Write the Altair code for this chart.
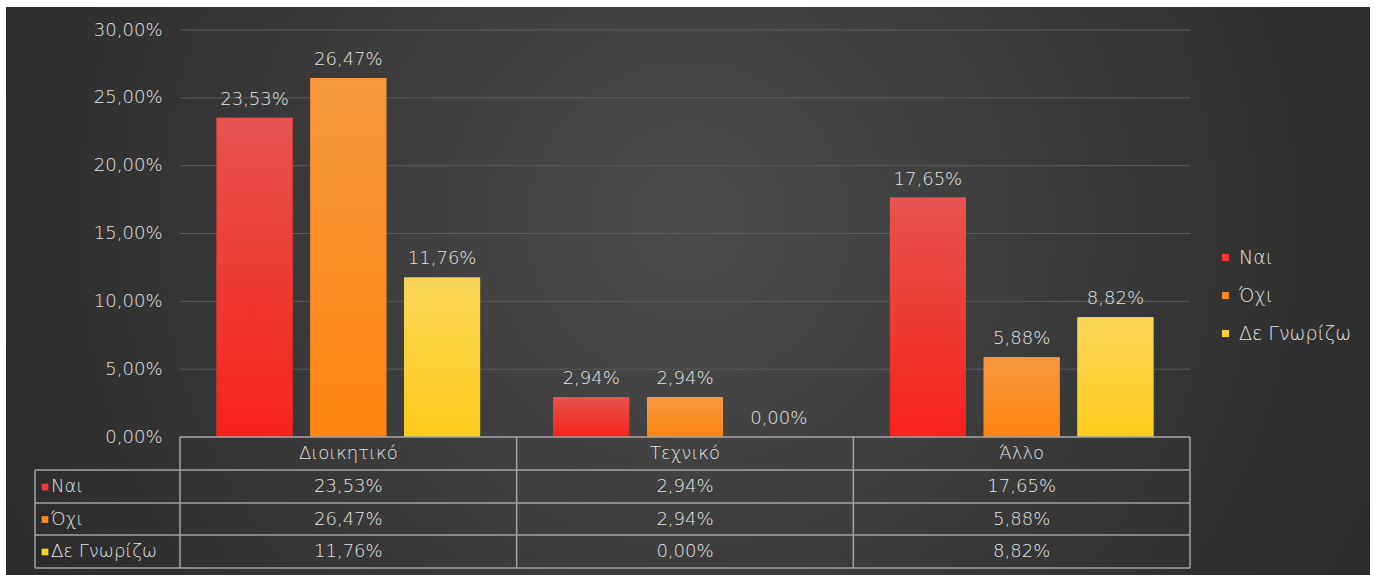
import altair as alt
import pandas as pd

categories = ["Διοικητικό", "Τεχνικό", "Άλλο"]
series = ["Ναι", "Όχι", "Δε Γνωρίζω"]
nai = [23.53, 2.94, 17.65]
oxi = [26.47, 2.94, 5.88]
de_gnorizo = [11.76, 0.00, 8.82]
y_ticks = [0, 5, 10, 15, 20, 25, 30]

solid = ["#ee3a32", "#fb8c24", "#fcd034"]
grad_top = ["#e65450", "#f6983f", "#f8d558"]
grad_bot = ["#f7221a", "#ff8510", "#ffcc1c"]

rows = []
for s, vals in zip(series, [nai, oxi, de_gnorizo]):
    for c, v in zip(categories, vals):
        rows.append({"category": c, "series": s, "value": v})
df = pd.DataFrame(rows)
df_cat = pd.DataFrame({"category": categories})
df_ticks = pd.DataFrame({"value": y_ticks})
dummy = pd.DataFrame({"k": [0]})

W, H = 1010, 407
FONT = "DejaVu Sans"
TXT = "#e4e4e4"
LINE = "#a3a3a3"
FS = 18
FW = 300

label_calc = "replace(format(datum.value, '.2f'), '.', ',') + '%'"

x_enc = alt.X("category:N", sort=categories,
              scale=alt.Scale(paddingInner=0, paddingOuter=0), axis=None)
xo_enc = alt.XOffset("series:N", sort=series,
                     scale=alt.Scale(paddingInner=0.19, paddingOuter=0.39))
y_enc = alt.Y("value:Q", scale=alt.Scale(domain=[0, 30], nice=False),
              axis=alt.Axis(values=y_ticks, labelExpr=label_calc, grid=False,
                            domain=False, ticks=False, labelPadding=18,
                            labelColor=TXT, labelFontSize=FS, labelFontWeight=FW,
                            zindex=1, title=None))

layers = []

# background
layers.append(
    alt.Chart(dummy).mark_rect(fill={
        "gradient": "radial", "x1": 0.5, "y1": 0.45, "r1": 0,
        "x2": 0.5, "y2": 0.45, "r2": 0.75,
        "stops": [{"offset": 0, "color": "#4b4b4b"}, {"offset": 1, "color": "#1f1f1f"}]
    }).encode(x=alt.value(-174), x2=alt.value(1190), y=alt.value(-23), y2=alt.value(545))
)

# gridlines
layers.append(
    alt.Chart(df_ticks).mark_rule(color="#5c5c5c", strokeWidth=1).encode(
        y=y_enc, x=alt.value(0), x2=alt.value(W))
)

# base bars (for legend)
layers.append(
    alt.Chart(df).mark_bar().encode(
        x=x_enc, xOffset=xo_enc, y=y_enc,
        color=alt.Color("series:N", sort=series,
                        scale=alt.Scale(domain=series, range=solid),
                        legend=alt.Legend(title=None, orient="none", legendX=1036, legendY=218,
                                          symbolType="square", symbolSize=50,
                                          symbolStrokeWidth=0, labelColor=TXT,
                                          labelFontSize=19, labelFontWeight=FW,
                                          rowPadding=18, labelOffset=4, zindex=1)))
)

# gradient bars
for i, s in enumerate(series):
    layers.append(
        alt.Chart(df).transform_filter(alt.datum.series == s).mark_bar(fill={
            "gradient": "linear", "x1": 0, "y1": 0, "x2": 0, "y2": 1,
            "stops": [{"offset": 0, "color": grad_top[i]}, {"offset": 1, "color": grad_bot[i]}]
        }).encode(x=x_enc, xOffset=xo_enc, y=y_enc)
    )

# value labels
layers.append(
    alt.Chart(df).transform_calculate(label=label_calc).mark_text(
        baseline="bottom", dy=-9, color=TXT, fontSize=FS, fontWeight=FW).encode(
        x=x_enc, xOffset=xo_enc, y=y_enc, text="label:N")
)

# table lines
hlines = [(0, W, H), (-145, W, H + 33), (-145, W, H + 66), (-145, W, H + 98), (-145, W, H + 131)]
vlines = [(-145, H + 33, H + 131), (0, H, H + 131), (W / 3, H, H + 131),
          (2 * W / 3, H, H + 131), (W, H, H + 131)]
for a, b, c in hlines:
    layers.append(alt.Chart(dummy).mark_rule(color=LINE, strokeWidth=1.5).encode(
        x=alt.value(a), x2=alt.value(b), y=alt.value(c)))
for a, b, c in vlines:
    layers.append(alt.Chart(dummy).mark_rule(color=LINE, strokeWidth=1.5).encode(
        x=alt.value(a), y=alt.value(b), y2=alt.value(c)))

# table header
layers.append(
    alt.Chart(df_cat).mark_text(color=TXT, fontSize=FS, fontWeight=FW, baseline="middle").encode(
        x=x_enc, y=alt.value(H + 17), text="category:N")
)

# table rows
for i, s in enumerate(series):
    yc = H + 50 + 32.5 * i
    layers.append(
        alt.Chart(df).transform_filter(alt.datum.series == s)
        .transform_calculate(label=label_calc)
        .mark_text(color=TXT, fontSize=FS, fontWeight=FW, baseline="middle")
        .encode(x=x_enc, y=alt.value(yc), text="label:N")
    )
    one = pd.DataFrame({"series": [s]})
    layers.append(
        alt.Chart(one).mark_square(size=45, color=solid[i], opacity=1).encode(
            x=alt.value(-135), y=alt.value(yc))
    )
    layers.append(
        alt.Chart(one).mark_text(color=TXT, fontSize=FS, fontWeight=FW, align="left",
                                 baseline="middle").encode(
            x=alt.value(-129), y=alt.value(yc), text="series:N")
    )

chart = alt.layer(*layers).properties(
    width=W, height=H,
    autosize=alt.AutoSizeParams(type="none"),
    padding={"left": 180, "top": 30, "right": 185, "bottom": 138},
    background="white",
).configure(font=FONT).configure_view(stroke=None)

chart.save("out.html", embed_options={"renderer": "svg", "actions": False})
